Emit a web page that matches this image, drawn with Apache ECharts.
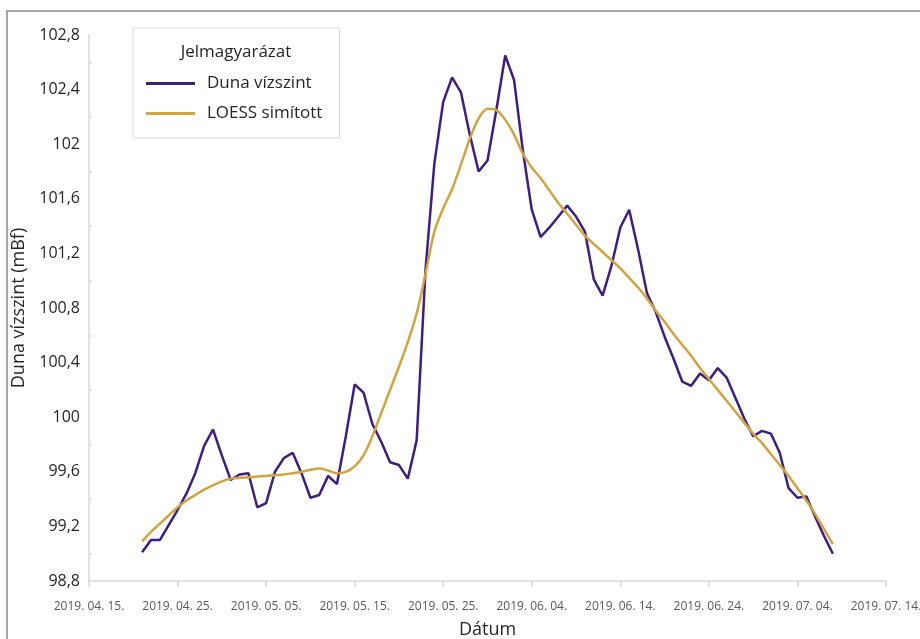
<!DOCTYPE html>
<html>
<head>
<meta charset="utf-8">
<script src="https://cdn.jsdelivr.net/npm/echarts@6/dist/echarts.min.js"></script>
<style>
  html, body { margin: 0; padding: 0; background: #ffffff; }
  #chart { width: 920px; height: 639px; }
</style>
</head>
<body>
<div id="chart"></div>
<script>
// Daily Danube water level (mBf) and its LOESS-smoothed trend, 2019-04-21 .. 2019-07-08
const axisStart = '2019-04-15';
const axisEnd = '2019-07-14';
const firstDay = '2019-04-21';

const levelValues = [
  99.01, 99.10, 99.10, 99.21, 99.32, 99.44, 99.59, 99.79, 99.91, 99.72,
  99.54, 99.58, 99.59, 99.34, 99.37, 99.60, 99.70, 99.74, 99.59, 99.41,
  99.43, 99.57, 99.51, 99.86, 100.24, 100.18, 99.95, 99.82, 99.67, 99.65,
  99.55, 99.83, 101.08, 101.86, 102.31, 102.49, 102.38, 102.07, 101.80, 101.88,
  102.25, 102.65, 102.47, 101.95, 101.52, 101.32, 101.39, 101.47, 101.55, 101.47,
  101.36, 101.01, 100.89, 101.11, 101.39, 101.52, 101.23, 100.91, 100.77, 100.59,
  100.43, 100.26, 100.23, 100.32, 100.27, 100.36, 100.29, 100.14, 99.99, 99.86,
  99.90, 99.88, 99.74, 99.48, 99.41, 99.42, 99.27, 99.13, 99.00
];

const loessValues = [
  99.09, 99.16, 99.22, 99.28, 99.34, 99.39, 99.43, 99.47, 99.50, 99.53,
  99.55, 99.555, 99.56, 99.565, 99.57, 99.575, 99.58, 99.59, 99.60, 99.615,
  99.625, 99.61, 99.59, 99.60, 99.64, 99.72, 99.86, 100.03, 100.20, 100.37,
  100.55, 100.76, 101.05, 101.36, 101.53, 101.67, 101.85, 102.04, 102.19, 102.26,
  102.25, 102.18, 102.07, 101.93, 101.83, 101.75, 101.66, 101.57, 101.49, 101.41,
  101.33, 101.27, 101.21, 101.15, 101.09, 101.02, 100.95, 100.87, 100.78, 100.70,
  100.61, 100.53, 100.45, 100.36, 100.28, 100.20, 100.12, 100.04, 99.96, 99.88,
  99.81, 99.73, 99.65, 99.57, 99.48, 99.39, 99.29, 99.18, 99.07
];

const seriesNames = ['Duna vízszint', 'LOESS simított'];
const legendTitle = 'Jelmagyarázat';
const xAxisTitle = 'Dátum';
const yAxisTitle = 'Duna vízszint (mBf)';
const yMin = 98.8, yMax = 102.8, yStep = 0.4;
const dayStep = 10;

const DAY = 86400000;
const startMs = Date.parse(axisStart + 'T00:00:00Z');
const endMs = Date.parse(axisEnd + 'T00:00:00Z');
const firstMs = Date.parse(firstDay + 'T00:00:00Z');
const dayOffset = ms => Math.round((ms - startMs) / DAY);

// x = days since axis start, so the 10-day ticks line up with the start date
const levelData = levelValues.map((v, i) => [dayOffset(firstMs) + i, v]);
const loessData = loessValues.map((v, i) => [dayOffset(firstMs) + i, v]);

function dateLabel(d) {
  const dt = new Date(startMs + d * DAY);
  const mm = String(dt.getUTCMonth() + 1).padStart(2, '0');
  const dd = String(dt.getUTCDate()).padStart(2, '0');
  return dt.getUTCFullYear() + '. ' + mm + '. ' + dd + '.';
}

const FONT = '"Open Sans", "Noto Sans", sans-serif';

const chart = echarts.init(document.getElementById('chart'), null, { renderer: 'canvas' });
chart.setOption({
  animation: false,
  backgroundColor: '#ffffff',
  textStyle: { fontFamily: FONT },
  grid: { left: 89, right: 34, top: 35, bottom: 58, containLabel: false, outerBoundsMode: 'none' },
  graphic: [
    {
      type: 'rect', z: -10, silent: true,
      shape: { x: 7, y: 11, width: 1000, height: 1000 },
      style: { fill: 'none', stroke: '#a6a6a6', lineWidth: 2 }
    },
    {
      type: 'text', z: 100, silent: true,
      x: 236, y: 52,
      style: {
        text: legendTitle, fill: '#262626', font: '17px ' + FONT,
        textAlign: 'center', textVerticalAlign: 'middle'
      }
    }
  ],
  legend: {
    data: seriesNames,
    orient: 'vertical',
    left: 133, top: 28,
    padding: [47, 17, 16, 13],
    itemWidth: 49, itemHeight: 14, itemGap: 13,
    icon: 'path://M0,0L100,0L100,6L0,6Z',
    borderColor: '#d9d9d9', borderWidth: 1,
    textStyle: { fontSize: 17, color: '#262626', fontFamily: FONT, padding: [0, 0, 0, 7] }
  },
  xAxis: {
    type: 'value',
    min: 0,
    max: dayOffset(endMs),
    interval: dayStep,
    name: xAxisTitle,
    nameLocation: 'middle',
    nameGap: 40,
    nameTextStyle: { fontSize: 18, color: '#262626', fontFamily: FONT },
    axisLine: { show: true, lineStyle: { color: '#d9d9d9', width: 1.5 } },
    axisTick: { show: true, length: 6, lineStyle: { color: '#d9d9d9', width: 1.5 } },
    splitLine: { show: false },
    axisLabel: {
      margin: 20, fontSize: 12, color: '#595959', fontFamily: FONT,
      showMinLabel: true, showMaxLabel: true,
      formatter: v => dateLabel(v)
    }
  },
  yAxis: {
    type: 'value',
    min: yMin, max: yMax, interval: yStep,
    name: yAxisTitle,
    nameLocation: 'middle',
    nameGap: 52,
    nameTextStyle: { fontSize: 18, color: '#262626', fontFamily: FONT },
    axisLine: { show: true, lineStyle: { color: '#d9d9d9', width: 1.5 } },
    axisTick: { show: false, inside: true },
    minorTick: { show: true, splitNumber: 2, length: 3, lineStyle: { color: '#d9d9d9', width: 1.5 } },
    splitLine: { show: false },
    axisLabel: {
      margin: 9, fontSize: 16, color: '#262626', fontFamily: FONT,
      formatter: v => {
        const s = (Math.round(v * 10) / 10).toString();
        return s.replace('.', ',');
      }
    }
  },
  series: [
    {
      name: seriesNames[0],
      type: 'line',
      data: levelData,
      symbol: 'none',
      lineStyle: { color: '#3d1d86', width: 2.5 },
      itemStyle: { color: '#3d1d86' }
    },
    {
      name: seriesNames[1],
      type: 'line',
      data: loessData,
      symbol: 'none',
      smooth: 0.3,
      lineStyle: { color: '#d4a43c', width: 2.5 },
      itemStyle: { color: '#d4a43c' }
    }
  ]
});
</script>
</body>
</html>
